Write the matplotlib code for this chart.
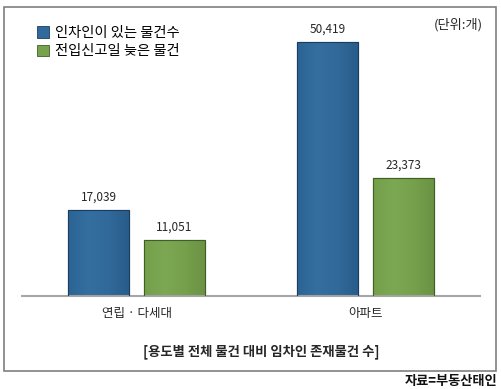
import numpy as np
import matplotlib
matplotlib.use("Agg")
import matplotlib.pyplot as plt
from matplotlib.patches import Rectangle
from matplotlib.colors import LinearSegmentedColormap

plt.rcParams['font.family'] = ['Noto Sans CJK KR', 'DejaVu Sans']

categories = ['연립 · 다세대', '아파트']
series_names = ['인차인이 있는 물건수', '전입신고일 늦은 물건']
series_values = [[17039, 50419], [11051, 23373]]
value_labels = [['17,039', '50,419'], ['11,051', '23,373']]
unit_text = '(단위:개)'
title_text = '[용도별 전체 물건 대비 임차인 존재물건 수]'
source_text = '자료=부동산태인'

W, H = 501, 389
fig = plt.figure(figsize=(W / 100, H / 100), dpi=100)

# outer frame
fig.patches.append(Rectangle((4 / W, (H - 371) / H), 492 / W, 364 / H,
                             transform=fig.transFigure, fill=False,
                             edgecolor='#7f7f7f', linewidth=1.2))

ax = fig.add_axes([22 / W, (H - 296) / H, 458 / W, 277 / H])
ax.set_xlim(-0.5, 1.5)
ax.set_ylim(0, 55000)
for s in ['top', 'right', 'left']:
    ax.spines[s].set_visible(False)
ax.spines['bottom'].set_color('#a6a6a6')
ax.spines['bottom'].set_linewidth(1.5)
ax.set_yticks([])
ax.set_xticks([])

x = np.arange(len(categories))
width = 0.267
offsets = [-0.166, 0.166]
grad_colors = [['#2c6594', '#346fa0', '#30699a', '#285c89'],
               ['#74a04b', '#7ca753', '#76a04c', '#6a9243']]
edge_colors = ['#1b3d5e', '#3f5f24']
flat_colors = ['#30699b', '#77a24e']

handles = []
for i, vals in enumerate(series_values):
    bars = ax.bar(x + offsets[i], vals, width, color=flat_colors[i],
                  edgecolor=edge_colors[i], linewidth=0.8, zorder=2)
    cmap = LinearSegmentedColormap.from_list('g%d' % i, grad_colors[i])
    grad = np.linspace(0, 1, 64).reshape(1, -1)
    for b in bars:
        bx, by = b.get_x(), b.get_y()
        bw, bh = b.get_width(), b.get_height()
        im = ax.imshow(grad, cmap=cmap, extent=[bx, bx + bw, by, by + bh],
                       aspect='auto', zorder=2.5, interpolation='bicubic')
        im.set_clip_path(b)
        ax.add_patch(Rectangle((bx, by), bw, bh, fill=False,
                               edgecolor=edge_colors[i], linewidth=0.8, zorder=3))
    for b, lab in zip(bars, value_labels[i]):
        ax.annotate(lab, (b.get_x() + b.get_width() / 2, b.get_height()),
                    xytext=(0, 9.5), textcoords='offset points',
                    ha='center', va='center', fontsize=8.5, color='#262626')
    handles.append(Rectangle((0, 0), 1, 1, facecolor=flat_colors[i],
                             edgecolor=edge_colors[i], linewidth=0.6))

ax.set_ylim(0, 55000)
ax.set_xlim(-0.5, 1.5)

for xi, c in zip(x, categories):
    ax.annotate(c, (xi, 0), xytext=(0, -12.5), textcoords='offset points',
                ha='center', va='center', fontsize=9, color='#262626')

fig.legend(handles, series_names, loc='upper left',
           bbox_to_anchor=(37 / W, (H - 26) / H), frameon=False,
           fontsize=10.3, handlelength=0.85, handleheight=0.85,
           handletextpad=0.4, labelspacing=0.3, borderpad=0,
           borderaxespad=0)

fig.text(483 / W, (H - 25) / H, unit_text, ha='right', va='center',
         fontsize=9.5, color='#262626')
fig.text(261 / W, (H - 352) / H, title_text, ha='center', va='center',
         fontsize=9.6, fontweight='bold', color='#262626')
fig.text(497 / W, (H - 381) / H, source_text, ha='right', va='center',
         fontsize=9.5, fontweight='bold', color='#111111')

fig.savefig('out.png', dpi=100)
